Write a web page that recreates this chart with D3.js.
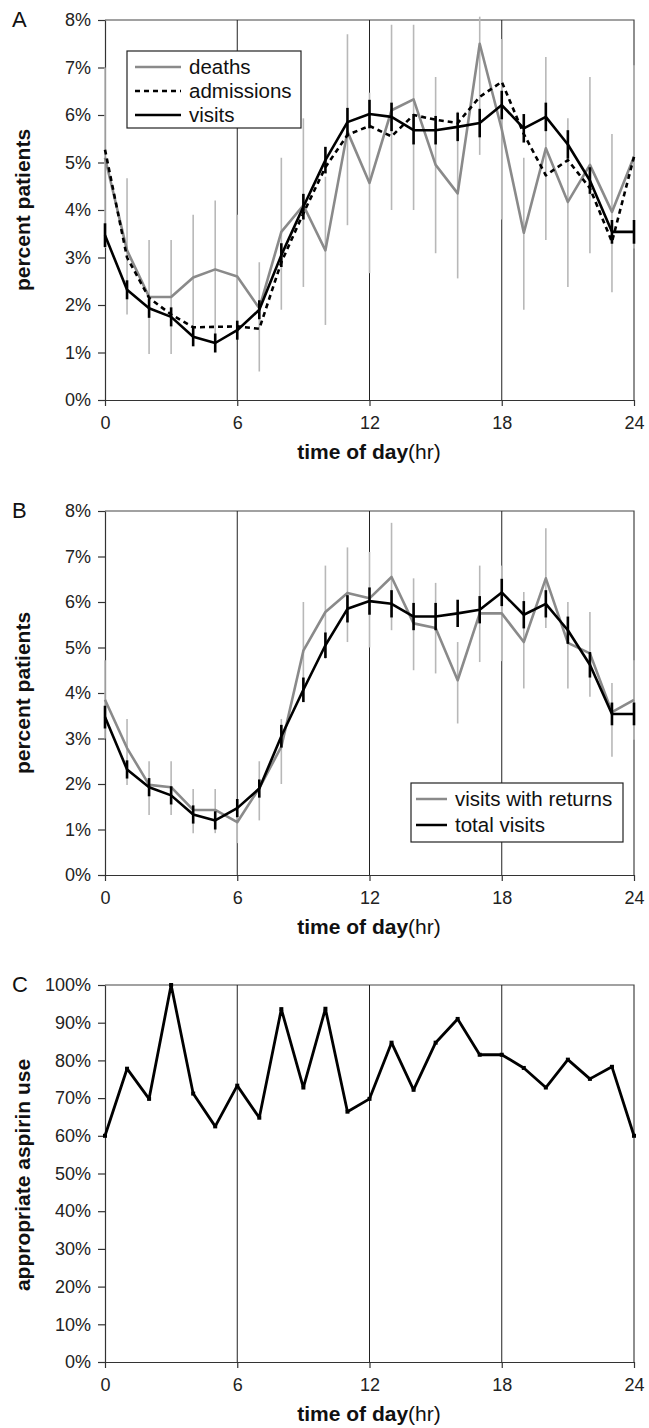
<!DOCTYPE html>
<html>
<head>
<meta charset="utf-8">
<script src="https://cdn.jsdelivr.net/npm/d3@7"></script>
<style>
  body { margin: 0; background: #fff; }
  svg { display: block; font-family: "Liberation Sans", Arial, sans-serif; }
  .axis text { font-size: 18px; fill: #222; }
  .axis path, .axis line { stroke: #333; }
</style>
</head>
<body>
<svg id="chart" width="649" height="1428"></svg>
<script>
// horas do dia
var hours = d3.range(0, 25);
var hourTicks = [0, 6, 12, 18, 24];

// Painel A
var deaths =     [5.1, 3.15, 2.17, 2.17, 2.58, 2.75, 2.6, 1.93, 3.54, 4.1, 3.15, 5.65, 4.57, 6.1, 6.33, 4.95, 4.35, 7.5, 5.7, 3.52, 5.3, 4.17, 4.95, 3.96, 5.12];
var deathsLow =  [3.2, 1.8, 0.97, 0.97, 1.16, 1.3, 1.3, 0.6, 1.9, 2.38, 1.58, 3.68, 2.67, 4.0, 4.0, 3.09, 2.56, 5.16, 3.8, 1.9, 3.37, 2.38, 3.09, 2.27, 3.19];
var deathsHigh = [7.0, 4.67, 3.37, 3.37, 3.9, 4.2, 3.9, 2.9, 5.1, 5.93, 4.7, 7.7, 6.47, 7.9, 7.9, 6.8, 6.07, 8.07, 7.6, 5.1, 7.22, 5.93, 6.8, 5.6, 7.05];
var admissions = [5.27, 3.0, 2.15, 1.8, 1.53, 1.54, 1.55, 1.5, 2.9, 3.93, 4.9, 5.58, 5.77, 5.55, 6.0, 5.9, 5.83, 6.38, 6.7, 5.6, 4.73, 5.05, 4.46, 3.33, 5.12];
var visits =     [3.47, 2.32, 1.93, 1.75, 1.33, 1.2, 1.47, 1.9, 3.05, 4.07, 5.05, 5.85, 6.02, 5.96, 5.68, 5.68, 5.75, 5.83, 6.21, 5.72, 5.96, 5.38, 4.62, 3.54, 3.54];
var visitsErr =  [0.25, 0.2, 0.2, 0.2, 0.2, 0.2, 0.2, 0.2, 0.25, 0.27, 0.28, 0.3, 0.3, 0.3, 0.3, 0.3, 0.3, 0.3, 0.3, 0.3, 0.3, 0.3, 0.28, 0.25, 0.25];

// Painel B
var returns =     [3.85, 2.79, 1.98, 1.93, 1.43, 1.43, 1.16, 1.91, 2.82, 4.93, 5.78, 6.2, 6.08, 6.55, 5.53, 5.43, 4.28, 5.75, 5.75, 5.12, 6.52, 5.1, 4.87, 3.58, 3.85];
var returnsLow =  [3.0, 1.98, 1.32, 1.32, 0.92, 0.92, 0.7, 1.2, 2.0, 3.85, 4.75, 5.12, 5.0, 5.38, 4.5, 4.43, 3.33, 4.68, 4.7, 4.1, 5.43, 4.1, 3.92, 2.6, 2.97];
var returnsHigh = [4.72, 3.43, 2.5, 2.5, 1.89, 1.89, 1.6, 2.5, 3.43, 6.0, 6.8, 7.2, 7.1, 7.74, 6.52, 6.42, 5.12, 6.8, 6.8, 6.22, 7.62, 6.0, 5.78, 4.22, 4.72];

// Painel C
var aspirin = [60, 77.8, 69.8, 100, 71.2, 62.5, 73.3, 64.8, 93.6, 72.8, 93.7, 66.4, 69.8, 84.7, 72.2, 84.7, 91, 81.5, 81.5, 78, 72.8, 80.2, 75.1, 78.3, 60];

var svg = d3.select("#chart");
var x = d3.scaleLinear().domain([0, 24]).range([105, 634]);

function painel(cfg) {
	var y = d3.scaleLinear().domain(cfg.domain).range([cfg.bottom, cfg.top]);
	var g = svg.append("g");

	// moldura: topo e direita
	g.append("path")
		.attr("d", `M${x(0)},${cfg.top}H${x(24)}V${cfg.bottom}`)
		.attr("fill", "none").attr("stroke", "#444").attr("stroke-width", 1.2);

	// linhas verticais 6, 12, 18
	g.selectAll(".grade").data([6, 12, 18]).enter().append("line")
		.attr("x1", d => x(d)).attr("x2", d => x(d))
		.attr("y1", cfg.top).attr("y2", cfg.bottom)
		.attr("stroke", "#222").attr("stroke-width", 1);

	g.append("g").attr("class", "axis")
		.attr("transform", `translate(0,${cfg.bottom})`)
		.call(d3.axisBottom(x).tickValues(hourTicks).tickSize(6).tickSizeOuter(0).tickPadding(10))
		.selectAll("path, line").attr("stroke-width", 1.2);

	g.append("g").attr("class", "axis")
		.attr("transform", `translate(${x(0)},0)`)
		.call(d3.axisLeft(y).tickValues(cfg.ticks).tickSize(7).tickSizeOuter(0).tickPadding(7).tickFormat(d => d + "%"))
		.selectAll("path, line").attr("stroke-width", 1.2);

	svg.append("text").attr("x", 369).attr("y", cfg.bottom + 59)
		.attr("text-anchor", "middle").attr("font-size", 21).attr("fill", "#111")
		.html('<tspan font-weight="bold">time of day</tspan>(hr)');

	svg.append("text")
		.attr("transform", `translate(30,${cfg.ymid}) rotate(-90)`)
		.attr("text-anchor", "middle").attr("font-size", 21).attr("font-weight", "bold").attr("fill", "#111")
		.text(cfg.ylabel);

	svg.append("text").attr("x", 12).attr("y", cfg.top + 7)
		.attr("font-size", 22).attr("fill", "#111").text(cfg.letter);

	return { g: g, y: y };
}

function barras(g, y, lo, hi, cor, largura) {
	g.append("g").selectAll("line").data(hours).enter().append("line")
		.attr("x1", d => x(d)).attr("x2", d => x(d))
		.attr("y1", d => y(lo[d])).attr("y2", d => y(hi[d]))
		.attr("stroke", cor).attr("stroke-width", largura);
}

function linha(g, y, vals, cor, largura, dash) {
	g.append("path").datum(vals)
		.attr("d", d3.line().x((d, i) => x(hours[i])).y(d => y(d)))
		.attr("fill", "none").attr("stroke", cor).attr("stroke-width", largura)
		.attr("stroke-linejoin", "round")
		.attr("stroke-dasharray", dash || null);
}

function legenda(itens, bx, by, bw, bh, x0, x1, passo) {
	var lg = svg.append("g");
	lg.append("rect").attr("x", bx).attr("y", by).attr("width", bw).attr("height", bh)
		.attr("fill", "#fff").attr("stroke", "#222").attr("stroke-width", 1.2);
	itens.forEach((it, i) => {
		var yy = by + 16 + i * passo;
		lg.append("line").attr("x1", x0).attr("x2", x1).attr("y1", yy).attr("y2", yy)
			.attr("stroke", it.cor).attr("stroke-width", 2.5).attr("stroke-dasharray", it.dash || null);
		lg.append("text").attr("x", x1 + 8).attr("y", yy + 7)
			.attr("font-size", 20.5).attr("fill", "#111").text(it.nome);
	});
}

// A
var pa = painel({ domain: [0, 8], top: 20, bottom: 400, ymid: 210, ticks: d3.range(0, 9), ylabel: "percent patients", letter: "A" });
barras(pa.g, pa.y, deathsLow, deathsHigh, "#b8b8b8", 1.6);
linha(pa.g, pa.y, deaths, "#8a8a8a", 2.6);
linha(pa.g, pa.y, admissions, "#000", 2.6, "5,4");
linha(pa.g, pa.y, visits, "#000", 2.6);
barras(pa.g, pa.y, visits.map((v, i) => v - visitsErr[i]), visits.map((v, i) => v + visitsErr[i]), "#000", 2.6);
legenda([
	{ nome: "deaths", cor: "#8a8a8a" },
	{ nome: "admissions", cor: "#000", dash: "5,4" },
	{ nome: "visits", cor: "#000" }
], 127, 51, 174, 77, 135, 181, 24);

// B
var pb = painel({ domain: [0, 8], top: 511, bottom: 875, ymid: 693, ticks: d3.range(0, 9), ylabel: "percent patients", letter: "B" });
barras(pb.g, pb.y, returnsLow, returnsHigh, "#b8b8b8", 1.6);
linha(pb.g, pb.y, returns, "#8a8a8a", 2.6);
linha(pb.g, pb.y, visits, "#000", 2.6);
barras(pb.g, pb.y, visits.map((v, i) => v - visitsErr[i]), visits.map((v, i) => v + visitsErr[i]), "#000", 2.6);
legenda([
	{ nome: "visits with returns", cor: "#8a8a8a" },
	{ nome: "total visits", cor: "#000" }
], 411, 783, 212, 59, 416, 447, 26);

// C
var pc = painel({ domain: [0, 100], top: 985, bottom: 1362, ymid: 1175, ticks: d3.range(0, 101, 10), ylabel: "appropriate aspirin use", letter: "C" });
linha(pc.g, pc.y, aspirin, "#000", 2.8);
pc.g.append("g").selectAll("rect").data(hours).enter().append("rect")
	.attr("x", d => x(d) - 2).attr("y", d => pc.y(aspirin[d]) - 2)
	.attr("width", 4).attr("height", 4).attr("fill", "#000");
</script>
</body>
</html>
